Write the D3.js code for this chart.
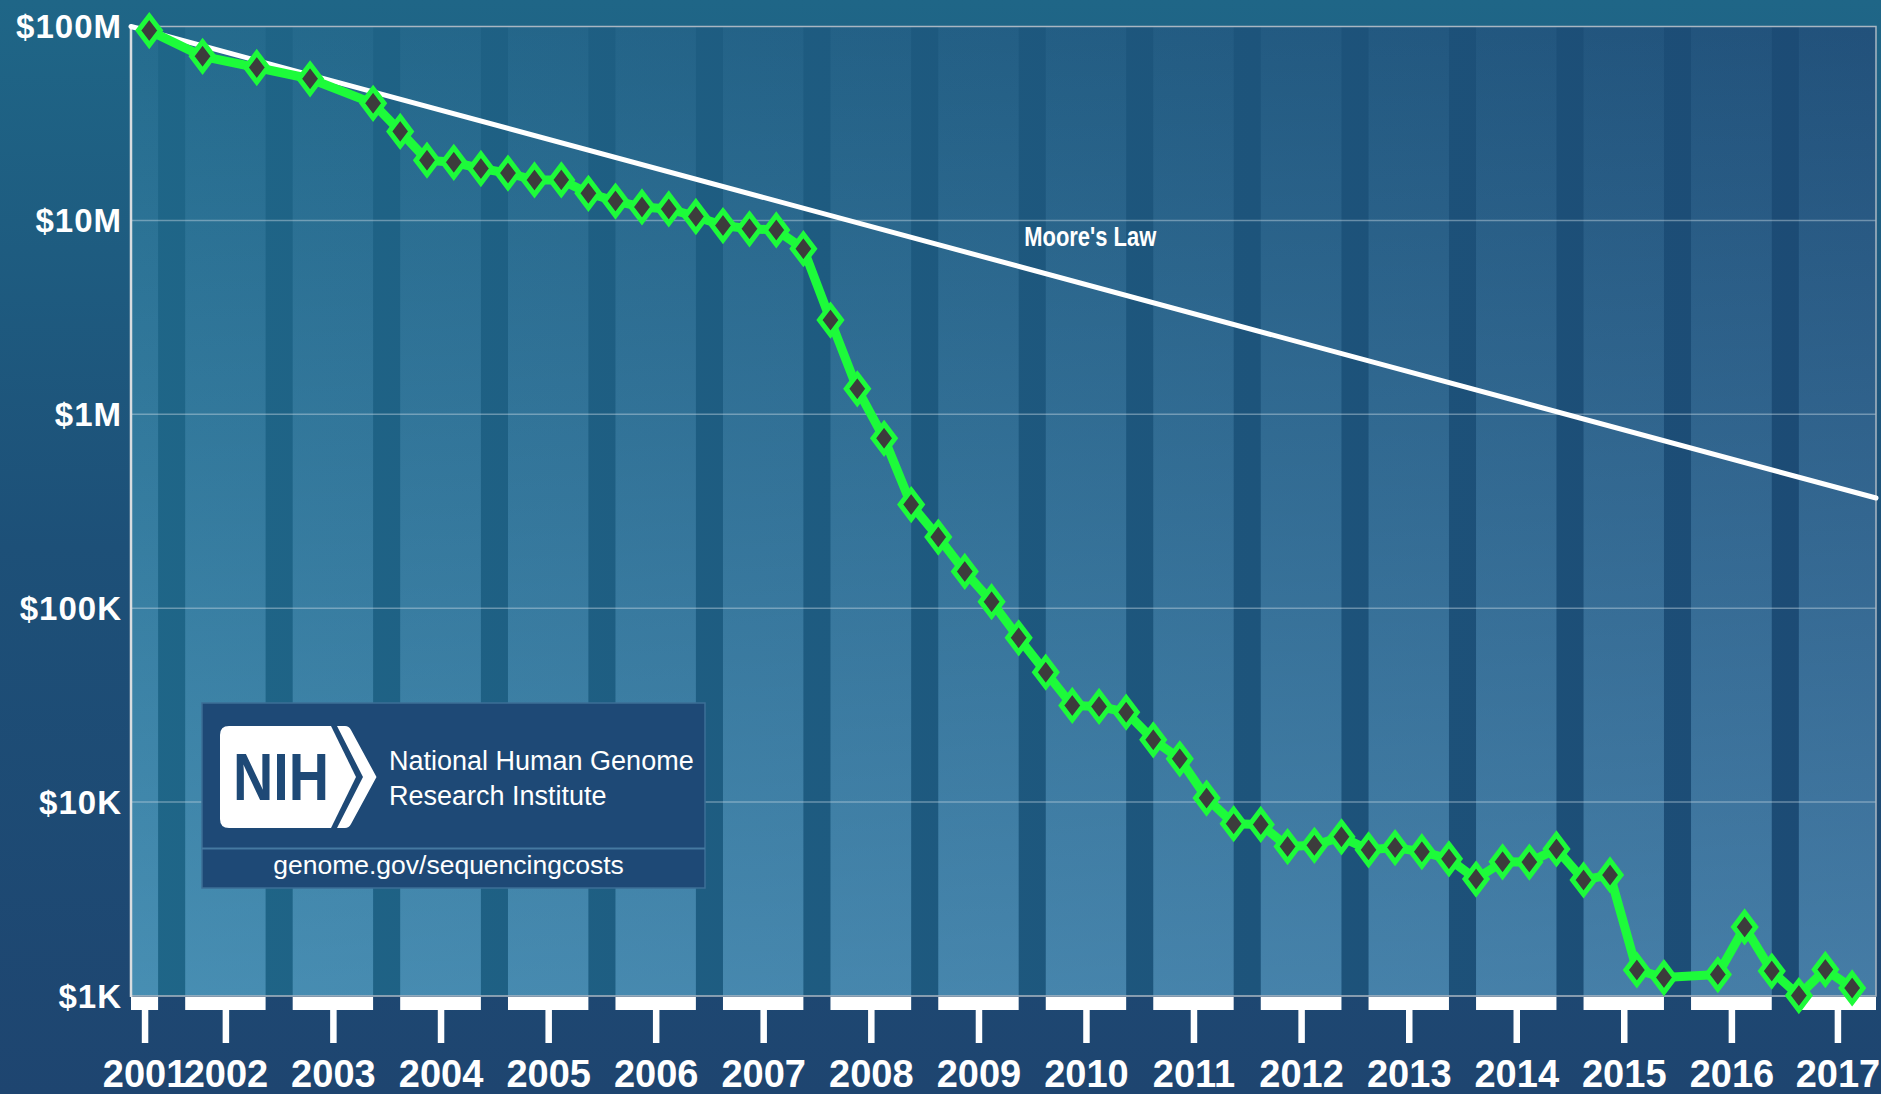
<!DOCTYPE html>
<html>
<head>
<meta charset="utf-8">
<title>Cost per Genome</title>
<script src="https://d3js.org/d3.v7.min.js"></script>
<style>
  body { margin: 0; background: #1e4f78; }
  svg { display: block; }
</style>
</head>
<body>
<script>
// Cost per human genome (one point per quarter)
const dates = ["2001-09", "2002-03", "2002-09", "2003-03", "2003-10",
  "2004-01", "2004-04", "2004-07", "2004-10", "2005-01", "2005-04", "2005-07", "2005-10",
  "2006-01", "2006-04", "2006-07", "2006-10", "2007-01", "2007-04", "2007-07", "2007-10",
  "2008-01", "2008-04", "2008-07", "2008-10", "2009-01", "2009-04", "2009-07", "2009-10",
  "2010-01", "2010-04", "2010-07", "2010-10", "2011-01", "2011-04", "2011-07", "2011-10",
  "2012-01", "2012-04", "2012-07", "2012-10", "2013-01", "2013-04", "2013-07", "2013-10",
  "2014-01", "2014-04", "2014-07", "2014-10", "2015-01", "2015-04", "2015-07", "2015-10",
  "2016-04", "2016-07", "2016-10", "2017-01", "2017-04", "2017-07"];
const costs = [95263072, 70175437, 61448422, 53751684, 40157554,
  28780376, 20442576, 19934346, 18519312, 17534970, 16159699, 16180224, 13801124,
  12585659, 11732535, 11455315, 10474556, 9408739, 9047003, 8927342, 7147571,
  3063820, 1352982, 752080, 342502, 232735, 154714, 108065, 70333,
  46774, 31512, 31125, 29092, 20963, 16712, 10497, 7743,
  7666, 5901, 5985, 6618, 5671, 5826, 5550, 5096,
  4008, 4920, 4905, 5731, 3970, 4211, 1363, 1245,
  1290, 2270, 1345, 1005, 1370, 1100];

// Moore's Law reference: its two end points
const mooreDates = ["2001-07-01", "2017-09-20"];
const mooreCosts = [100000000, 370000];
const mooreLabel = { date: "2010-06-01", cost: 7400000, text: "Moore's Law" };

const xDomain = ["2001-07-01", "2017-09-20"];
const yTicks = [100000000, 10000000, 1000000, 100000, 10000, 1000];
const yTickLabels = ["$100M", "$10M", "$1M", "$100K", "$10K", "$1K"];
const yearLabels = ["2001", "2002", "2003", "2004", "2005", "2006", "2007", "2008", "2009",
  "2010", "2011", "2012", "2013", "2014", "2015", "2016", "2017"];

const W = 1881, H = 1094;
const plot = { left: 131, right: 1876, top: 26.5, bottom: 996 };
const green = "#1dfb3a";

const parseMonth = d3.timeParse("%Y-%m");
const parseDay = d3.timeParse("%Y-%m-%d");

const x = d3.scaleTime()
    .domain(xDomain.map(parseDay))
    .range([plot.left, plot.right]);
const y = d3.scaleLog()
    .domain([1000, 100000000])
    .range([plot.bottom, plot.top]);

const data = dates.map((d, i) => ({ date: parseMonth(d), cost: costs[i] }));

const svg = d3.select("body").append("svg")
    .attr("width", W)
    .attr("height", H);

// Gradients
const defs = svg.append("defs");
const bg = defs.append("linearGradient").attr("id", "bgGrad")
    .attr("x1", 0).attr("y1", 0).attr("x2", 0).attr("y2", 1);
bg.append("stop").attr("offset", "0%").attr("stop-color", "#1f6687");
bg.append("stop").attr("offset", "50%").attr("stop-color", "#1d5078");
bg.append("stop").attr("offset", "100%").attr("stop-color", "#1e4570");

const dark = defs.append("linearGradient").attr("id", "darkGrad")
    .attr("gradientUnits", "userSpaceOnUse")
    .attr("x1", plot.left).attr("y1", 0).attr("x2", plot.right).attr("y2", 0);
dark.append("stop").attr("offset", "0%").attr("stop-color", "#1f6688");
dark.append("stop").attr("offset", "100%").attr("stop-color", "#1c4a74");

const light = defs.append("linearGradient").attr("id", "lightGrad")
    .attr("gradientUnits", "userSpaceOnUse")
    .attr("x1", 0).attr("y1", plot.top).attr("x2", 0).attr("y2", plot.bottom);
light.append("stop").attr("offset", "0%").attr("stop-color", "#8fd6ff").attr("stop-opacity", 0.05);
light.append("stop").attr("offset", "50%").attr("stop-color", "#8fd6ff").attr("stop-opacity", 0.2);
light.append("stop").attr("offset", "100%").attr("stop-color", "#8fd6ff").attr("stop-opacity", 0.36);

svg.append("rect").attr("width", W).attr("height", H).attr("fill", "url(#bgGrad)");

svg.append("rect")
    .attr("x", plot.left).attr("y", plot.top)
    .attr("width", plot.right - plot.left).attr("height", plot.bottom - plot.top)
    .attr("fill", "url(#darkGrad)");

// Light band for each year: January to October, clipped to the axis
const [d0, d1] = x.domain();
const bands = yearLabels.map(yr => {
    const a = new Date(+yr, 0, 1), b = new Date(+yr, 9, 1);
    const s = a < d0 ? d0 : a, e = b > d1 ? d1 : b;
    return { year: yr, start: s, end: e };
});

svg.append("g").selectAll("rect")
    .data(bands)
    .join("rect")
    .attr("x", d => x(d.start))
    .attr("y", plot.top)
    .attr("width", d => x(d.end) - x(d.start))
    .attr("height", plot.bottom - plot.top)
    .attr("fill", "url(#lightGrad)");

// Grid lines
svg.append("g").selectAll("line")
    .data(yTicks.slice(1, -1))
    .join("line")
    .attr("x1", plot.left).attr("x2", plot.right)
    .attr("y1", d => y(d)).attr("y2", d => y(d))
    .attr("stroke", "#c6d6e2")
    .attr("stroke-opacity", 0.45)
    .attr("stroke-width", 1.5);

// Frame
svg.append("path")
    .attr("d", `M${plot.left},${y(1e8)}H${plot.right}V${y(1000)}H${plot.left}`)
    .attr("fill", "none")
    .attr("stroke", "#a9b6c2")
    .attr("stroke-width", 1.5);
svg.append("line")
    .attr("x1", plot.left).attr("x2", plot.left)
    .attr("y1", y(1e8)).attr("y2", y(1000) + 1)
    .attr("stroke", "#d9dde0")
    .attr("stroke-width", 2.5);

// White year bars under the plot
svg.append("g").selectAll("rect")
    .data(bands)
    .join("rect")
    .attr("x", d => x(d.start))
    .attr("y", y(1000) + 1)
    .attr("width", d => x(d.end) - x(d.start))
    .attr("height", 13)
    .attr("fill", "#ffffff");

// X axis: a tick in the middle of each light band
const tickDates = bands.map(d => x.invert((x(d.start) + x(d.end)) / 2));
const xAxis = svg.append("g")
    .attr("transform", `translate(0,${y(1000) + 14})`)
    .call(d3.axisBottom(x)
        .tickValues(tickDates)
        .tickFormat(d3.timeFormat("%Y"))
        .tickSize(33)
        .tickPadding(17));
xAxis.select(".domain").remove();
xAxis.selectAll(".tick line")
    .attr("stroke", "#ffffff")
    .attr("stroke-width", 6.5);
xAxis.selectAll(".tick text")
    .attr("fill", "#ffffff")
    .style("font-family", "'Liberation Sans', Arial, sans-serif")
    .style("font-weight", "bold")
    .style("font-size", "38px");

// Y axis labels
svg.append("g").selectAll("text")
    .data(yTicks)
    .join("text")
    .attr("x", plot.left - 9)
    .attr("y", d => y(d))
    .attr("dy", "0.36em")
    .attr("text-anchor", "end")
    .attr("fill", "#ffffff")
    .style("font-family", "'Liberation Sans', Arial, sans-serif")
    .style("font-weight", "bold")
    .style("font-size", "33px")
    .style("letter-spacing", "1px")
    .text((d, i) => yTickLabels[i]);

// Moore's Law line
const moore = mooreDates.map((d, i) => ({ date: parseDay(d), cost: mooreCosts[i] }));
const line = d3.line().x(d => x(d.date)).y(d => y(d.cost));

svg.append("path")
    .datum(moore)
    .attr("d", line)
    .attr("fill", "none")
    .attr("stroke", "#ffffff")
    .attr("stroke-width", 5)
    .attr("stroke-linecap", "round");

// narrow bold label: squeeze the regular bold face to the reference width
svg.append("text")
    .attr("x", x(parseDay(mooreLabel.date)) - 66)
    .attr("y", y(mooreLabel.cost))
    .attr("textLength", 132)
    .attr("lengthAdjust", "spacingAndGlyphs")
    .attr("fill", "#ffffff")
    .style("font-family", "'Liberation Sans', Arial, sans-serif")
    .style("font-weight", "bold")
    .style("font-size", "27px")
    .text(mooreLabel.text);

// Cost per genome
svg.append("path")
    .datum(data)
    .attr("d", line)
    .attr("fill", "none")
    .attr("stroke", green)
    .attr("stroke-width", 9)
    .attr("stroke-linejoin", "round");

svg.append("g").selectAll("path")
    .data(data)
    .join("path")
    .attr("transform", d => `translate(${x(d.date)},${y(d.cost)})`)
    .attr("d", "M0,-14.5L11,0L0,14.5L-11,0Z")
    .attr("fill", "#3c3c3c")
    .attr("stroke", green)
    .attr("stroke-width", 5);

// NIH / NHGRI badge
const badge = svg.append("g");
badge.append("rect")
    .attr("x", 202).attr("y", 703)
    .attr("width", 503).attr("height", 185)
    .attr("fill", "#1e4976")
    .attr("stroke", "#3d6f97")
    .attr("stroke-width", 1.5);
badge.append("line")
    .attr("x1", 202).attr("x2", 705)
    .attr("y1", 848.5).attr("y2", 848.5)
    .attr("stroke", "#4579a0")
    .attr("stroke-width", 2);
badge.append("path")
    .attr("d", "M229,726H331L356,777L331,828H229Q220,828 220,819V735Q220,726 229,726Z")
    .attr("fill", "#ffffff");
badge.append("path")
    .attr("d", "M337,726H345Q349,726 351,730L376.5,777L351,824Q349,828 345,828H337L363,777Z")
    .attr("fill", "#ffffff");
badge.append("text")
    .attr("x", 233).attr("y", 800)
    .attr("textLength", 96)
    .attr("lengthAdjust", "spacingAndGlyphs")
    .attr("fill", "#1e4976")
    .style("font-family", "'Liberation Sans', Arial, sans-serif")
    .style("font-weight", "bold")
    .style("font-size", "66px")
    .text("NIH");
badge.append("text")
    .attr("x", 389).attr("y", 770)
    .attr("fill", "#ffffff")
    .style("font-family", "'Liberation Sans', Arial, sans-serif")
    .style("font-size", "27px")
    .text("National Human Genome");
badge.append("text")
    .attr("x", 389).attr("y", 805)
    .attr("fill", "#ffffff")
    .style("font-family", "'Liberation Sans', Arial, sans-serif")
    .style("font-size", "27px")
    .text("Research Institute");
badge.append("text")
    .attr("x", 448.5).attr("y", 873.5)
    .attr("text-anchor", "middle")
    .attr("fill", "#ffffff")
    .style("font-family", "'Liberation Sans', Arial, sans-serif")
    .style("font-size", "26.5px")
    .text("genome.gov/sequencingcosts");
</script>
</body>
</html>
